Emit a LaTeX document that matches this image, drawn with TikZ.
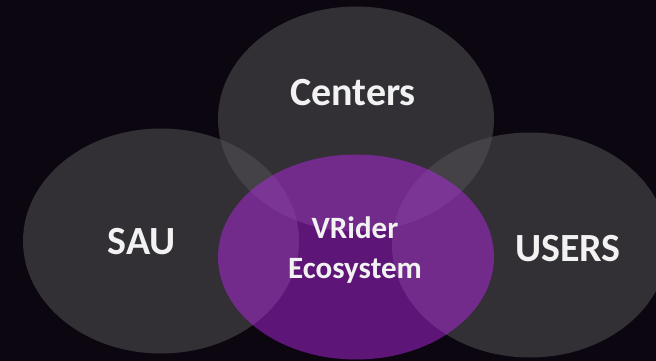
\documentclass[tikz,border=0pt]{standalone}
\usepackage{fontspec}
\setmainfont{Carlito}
\usetikzlibrary{shapes.geometric}
\definecolor{vrback}{RGB}{12,6,16}
\definecolor{vrgray}{RGB}{84,84,86}
\definecolor{vrpurple}{RGB}{185,39,234}
\definecolor{vrtext}{RGB}{242,242,242}
\tikzset{
  party/.style={ellipse,fill=vrgray,fill opacity=0.53,inner sep=0pt,
    minimum width=276pt,minimum height=225pt},
  hub/.style={ellipse,fill=vrpurple,fill opacity=0.48,inner sep=0pt,
    minimum width=276pt,minimum height=205pt},
  biglabel/.style={text=vrtext,font=\fontsize{40}{48}\selectfont\bfseries},
  hublabel/.style={text=vrtext,align=center,font=\fontsize{31}{40}\selectfont\bfseries},
}

\begin{document}
\begin{tikzpicture}[x=1pt,y=-1pt]
        \useasboundingbox (0,0) rectangle (656,361);
        \fill [vrback] (0,0) rectangle (656,361);
        \clip (0,0) rectangle (656,361);
        % the three partners
        \node (centers) at (356,119) [party] {};
        \node (sau) at (161,241) [party] {};
        \node (users) at (530,245) [party] {};
        % the ecosystem on top
        \node (eco) at (356,257) [hub] {};
        \node (centerstext) at (353,93) [biglabel] {Centers};
        \node (sautext) at (142,242) [biglabel] {SAU};
        \node (userstext) at (568,249) [biglabel] {USERS};
        \node (ecotext) at (355,250) [hublabel] {VRider\\Ecosystem};
      \end{tikzpicture}
\end{document}
